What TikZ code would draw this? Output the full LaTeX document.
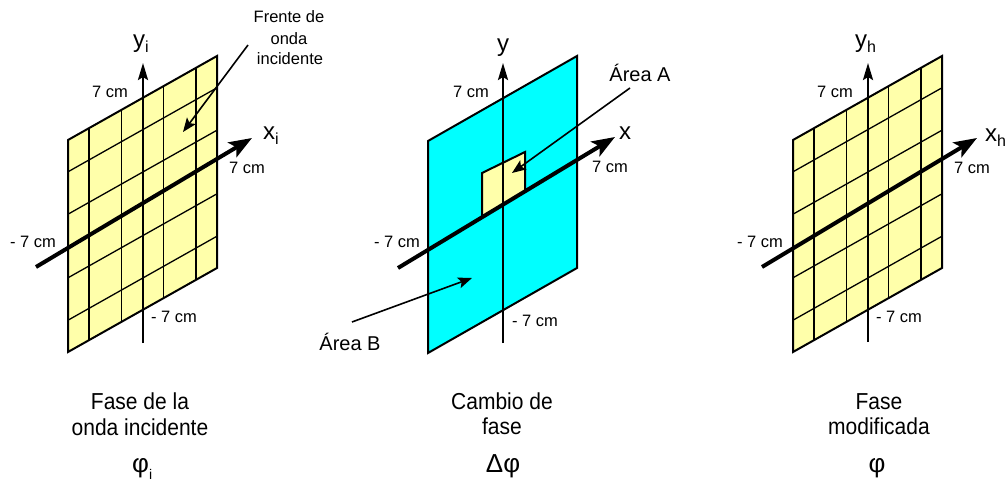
\documentclass[tikz,border=0pt]{standalone}
\usepackage{fontspec}
\setmainfont{Liberation Sans}
\usetikzlibrary{arrows.meta,calc}
\definecolor{paleyellow}{RGB}{255,255,170}
\definecolor{cyanfill}{RGB}{0,255,255}
\newcommand{\subtxt}[1]{\raisebox{-5pt}{\fontsize{16}{16}\selectfont #1}}
\newcommand{\tallbox}[1]{\scalebox{1}[1.1]{#1}}
\begin{document}
\begin{tikzpicture}[x=1pt,y=-1pt,
  plane/.style={draw=black, line width=2pt, line join=miter},
  gridline/.style={draw=black, line width=1.3pt},
  xaxis/.style={line width=4pt, -{Stealth[length=23pt,width=17pt,inset=5pt]}},
  yaxis/.style={line width=2.4pt, -{Stealth[length=17pt,width=10pt,inset=3pt]}},
  callout/.style={line width=1.6pt, -{Stealth[length=14pt,width=11pt,inset=3pt]}},
  cmlabel/.style={font=\fontsize{16.5}{19}\selectfont, anchor=base, inner sep=0pt},
  axlabel/.style={font=\fontsize{24}{28}\selectfont, anchor=base west, inner sep=0pt},
  arealabel/.style={font=\fontsize{20}{24}\selectfont, anchor=base, inner sep=0pt},
  caption/.style={font=\fontsize{21}{25}\selectfont, anchor=base, inner sep=0pt},
  philabel/.style={font=\fontsize{26}{30}\selectfont, anchor=base west, inner sep=0pt},
  smalltxt/.style={font=\fontsize{16.5}{19}\selectfont, anchor=base, inner sep=0pt},
]
\useasboundingbox (0,0) rectangle (1007,481);

% ---------- gridded planes (left and right) ----------
\foreach \p/\ox in {L/68, R/793}{
  \coordinate (\p TL) at (\ox,140);
  \coordinate (\p TR) at (\ox+149,56);
  \coordinate (\p BR) at (\ox+149,268);
  \coordinate (\p BL) at (\ox,352);
  \fill[paleyellow] (\p TL) -- (\p TR) -- (\p BR) -- (\p BL) -- cycle;
  \foreach \u in {0.14,0.36,0.64,0.86}{
    \draw[gridline] ($(\p TL)!\u!(\p TR)$) -- ($(\p BL)!\u!(\p BR)$);
  }
  \foreach \v in {0.15,0.35,0.65,0.85}{
    \draw[gridline] ($(\p TL)!\v!(\p BL)$) -- ($(\p TR)!\v!(\p BR)$);
  }
  \draw[plane] (\p TL) -- (\p TR) -- (\p BR) -- (\p BL) -- cycle;
}

% ---------- middle plane ----------
\coordinate (MTL) at (428,141);
\coordinate (MTR) at (577,56);
\coordinate (MBR) at (577,268);
\coordinate (MBL) at (428,353);
\draw[plane, fill=cyanfill] (MTL) -- (MTR) -- (MBR) -- (MBL) -- cycle;
\coordinate (ATL) at (482,173);
\coordinate (ATR) at (525,152);
\coordinate (ABR) at (525,191);
\coordinate (ABL) at (482,217);
\draw[plane, fill=paleyellow] (ABL) -- (ATL) -- (ATR) -- (ABR);

% ---------- axes ----------
\coordinate (Ly0) at (143,343);  \coordinate (Ly1) at (143,63);
\coordinate (Lx0) at (36,267);   \coordinate (Lx1) at (252,138);
\coordinate (My0) at (503,343);  \coordinate (My1) at (503,63);
\coordinate (Mx0) at (398,268);  \coordinate (Mx1) at (615,137);
\coordinate (Ry0) at (868,342);  \coordinate (Ry1) at (868,63);
\coordinate (Rx0) at (762,267);  \coordinate (Rx1) at (977,138);
\draw[yaxis] (Ly0) -- (Ly1);
\draw[xaxis] (Lx0) -- (Lx1);
\draw[yaxis] (My0) -- (My1);
\draw[xaxis] (Mx0) -- (Mx1);
\draw[yaxis] (Ry0) -- (Ry1);
\draw[xaxis] (Rx0) -- (Rx1);

% ---------- axis labels ----------
\node[axlabel] (Lyl) at (133,48) {y\subtxt{i}};
\node[axlabel] (Lxl) at (263,140) {x\subtxt{i}};
\node[axlabel] (Myl) at (497,52) {y};
\node[axlabel] (Mxl) at (619,140) {x};
\node[axlabel] (Ryl) at (855,48) {y\subtxt{h}};
\node[axlabel] (Rxl) at (985,142) {x\subtxt{h}};

% ---------- cm labels ----------
\node[cmlabel] (Lc1) at (110,98) {7 cm};
\node[cmlabel] (Lc2) at (247,174) {7 cm};
\node[cmlabel] (Lc3) at (33,248) {- 7 cm};
\node[cmlabel] (Lc4) at (174,322) {- 7 cm};
\node[cmlabel] (Mc1) at (471,98) {7 cm};
\node[cmlabel] (Mc2) at (610,173) {7 cm};
\node[cmlabel] (Mc3) at (397,248) {- 7 cm};
\node[cmlabel] (Mc4) at (535,326) {- 7 cm};
\node[cmlabel] (Rc1) at (835,98) {7 cm};
\node[cmlabel] (Rc2) at (972,174) {7 cm};
\node[cmlabel] (Rc3) at (760,248) {- 7 cm};
\node[cmlabel] (Rc4) at (899,322) {- 7 cm};

% ---------- callouts ----------
\node[smalltxt] (fr1) at (289,23) {Frente de};
\node[smalltxt] (fr2) at (289,45) {onda};
\node[smalltxt] (fr3) at (290,65) {incidente};
\coordinate (frs) at (248,45);
\coordinate (fre) at (183,132);
\draw[callout] (frs) -- (fre);

\node[arealabel] (areaA) at (640,82) {Área A};
\coordinate (aas) at (630,88);
\coordinate (aae) at (512,173);
\draw[callout] (aas) -- (aae);

\node[arealabel] (areaB) at (350,350) {Área B};
\coordinate (abs) at (352,322);
\coordinate (abe) at (472,278);
\draw[callout] (abs) -- (abe);

% ---------- captions ----------
\node[caption] (cap1a) at (140,409) {\tallbox{Fase de la}};
\node[caption] (cap1b) at (140,435) {\tallbox{onda incidente}};
\node[philabel] (phi1) at (132,472) {φ{\fontsize{14}{14}\selectfont\raisebox{-7pt}{i}}};
\node[caption] (cap2a) at (502,409) {\tallbox{Cambio de}};
\node[caption] (cap2b) at (502,434) {\tallbox{fase}};
\node[philabel, anchor=base] (phi2) at (503,472) {Δφ};
\node[caption] (cap3a) at (879,409) {\tallbox{Fase}};
\node[caption] (cap3b) at (879,434) {\tallbox{modificada}};
\node[philabel, anchor=base] (phi3) at (877,472) {φ};
\end{tikzpicture}
\end{document}
